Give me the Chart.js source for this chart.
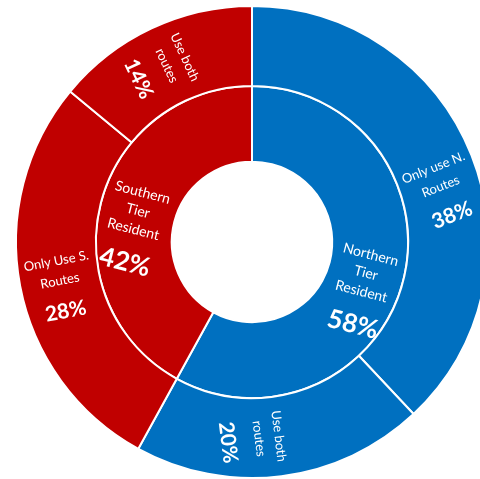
<!DOCTYPE html>
<html>
<head>
<meta charset="utf-8">
<script src="https://cdn.jsdelivr.net/npm/chart.js@4"></script>
<style>
  html, body { margin:0; padding:0; background:#fff; overflow:hidden; width:480px; height:479px; }
  #wrap { position:absolute; left:0; top:0; width:504px; height:484px; }
</style>
</head>
<body>
<div id="wrap"><canvas id="c"></canvas></div>
<script>
// outer ring: route usage
const outerNames  = [["Only use N.","Routes"], ["Use both","routes"], ["Only Use S.","Routes"], ["Use both","routes"]];
const outerValues = [38, 20, 28, 14];
const outerColors = ["#0070C0", "#0070C0", "#C00000", "#C00000"];

// inner ring: residence
const innerNames  = [["Northern","Tier","Resident"], ["Southern","Tier","Resident"]];
const innerValues = [58, 42];
const innerColors = ["#0070C0", "#C00000"];

const FONT = "Lato, 'Open Sans', sans-serif";

// rotated white labels: name lines centred in the arc, percentage hanging below
const arcLabels = {
  id: "arcLabels",
  afterDatasetsDraw(chart) {
    const ctx = chart.ctx;
    chart.data.datasets.forEach((ds, di) => {
      const meta = chart.getDatasetMeta(di);
      const inner = ds.ring === "inner";
      const st = inner
        ? { lineH: 19, gap: 34, nameFont: "14px ", pctFont: "bold 26px ", turn: 0.015 }
        : { lineH: 20, gap: 31, nameFont: "13px ", pctFont: "bold 21px ", turn: 0.04 };
      meta.data.forEach((arc, i) => {
        const p = arc.getProps(["x","y","startAngle","endAngle","innerRadius","outerRadius"], true);
        const mid = (p.startAngle + p.endAngle) / 2;
        const a = mid + st.turn;
        const r = (p.innerRadius + p.outerRadius) / 2;
        let rot = mid;
        while (rot > Math.PI / 2) rot -= Math.PI;
        while (rot <= -Math.PI / 2) rot += Math.PI;
        const names = ds.names[i];
        ctx.save();
        ctx.translate(p.x + r * Math.cos(a), p.y + r * Math.sin(a));
        ctx.rotate(rot);
        ctx.fillStyle = "#fff";
        ctx.textAlign = "center";
        ctx.textBaseline = "middle";
        let yy = -(names.length - 1) * st.lineH / 2;
        ctx.font = st.nameFont + FONT;
        names.forEach(t => { ctx.fillText(t, 0, yy); yy += st.lineH; });
        yy += st.gap - st.lineH;
        ctx.font = st.pctFont + FONT;
        ctx.fillText(ds.data[i] + "%", 0, yy);
        ctx.restore();
      });
    });
  }
};

new Chart(document.getElementById("c"), {
  type: "doughnut",
  data: {
    datasets: [
      { ring: "outer", names: outerNames, data: outerValues, backgroundColor: outerColors,
        borderColor: "#fff", borderWidth: 2, weight: 80 },
      { ring: "inner", names: innerNames, data: innerValues, backgroundColor: innerColors,
        borderColor: "#fff", borderWidth: 2, weight: 76 }
    ]
  },
  options: {
    responsive: true, maintainAspectRatio: false, animation: false,
    cutout: "34%",
    layout: { padding: 5 },
    plugins: { legend: { display: false }, tooltip: { enabled: false } }
  },
  plugins: [arcLabels]
});
</script>
</body>
</html>
